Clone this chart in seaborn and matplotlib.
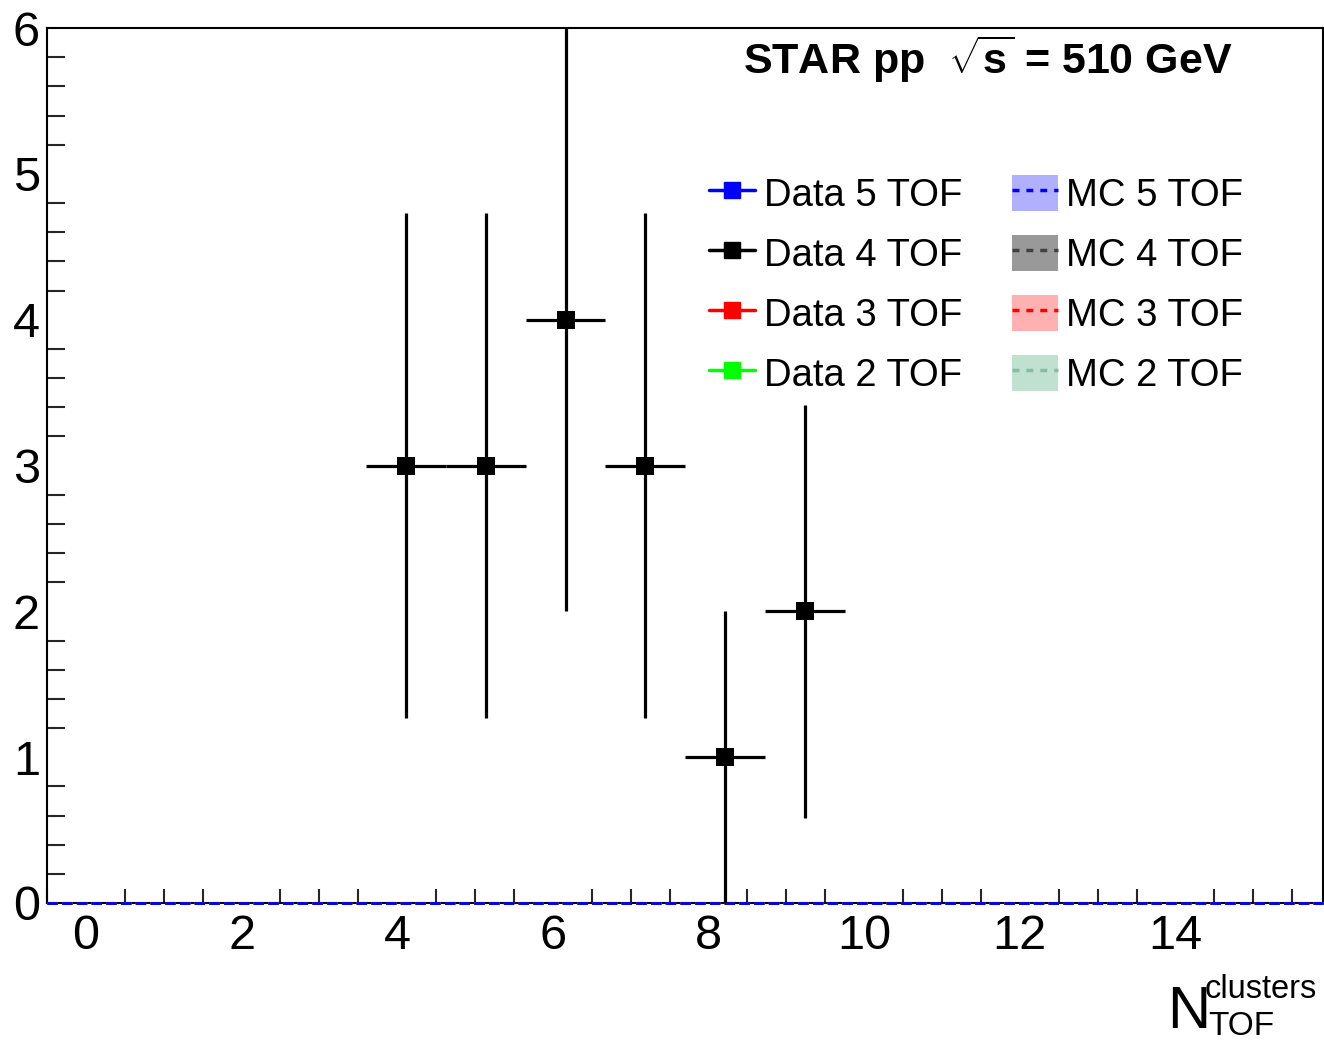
import numpy as np
import matplotlib
matplotlib.use("Agg")
import matplotlib.pyplot as plt
import seaborn as sns
from matplotlib.lines import Line2D
from matplotlib.patches import Patch
from matplotlib.legend_handler import HandlerTuple
from matplotlib.ticker import MultipleLocator

# histogram binning (16 bins)
x_lo, x_hi, n_bins = -0.5, 15.9, 16

data_labels = ["Data 5 TOF", "Data 4 TOF", "Data 3 TOF", "Data 2 TOF"]
data_colors = ["#0000ff", "#000000", "#ff0000", "#00ff00"]
data_5tof = [0, 0, 0, 0, 0, 0, 0, 0, 0, 0, 0, 0, 0, 0, 0, 0]
data_4tof = [0, 0, 0, 0, 3, 3, 4, 3, 1, 2, 0, 0, 0, 0, 0, 0]
data_3tof = [0, 0, 0, 0, 0, 0, 0, 0, 0, 0, 0, 0, 0, 0, 0, 0]
data_2tof = [0, 0, 0, 0, 0, 0, 0, 0, 0, 0, 0, 0, 0, 0, 0, 0]

mc_labels = ["MC 5 TOF", "MC 4 TOF", "MC 3 TOF", "MC 2 TOF"]
mc_line_colors = ["#0000ff", "#404040", "#ff0000", "#80c0a0"]
mc_fill_colors = ["#b0b0ff", "#999999", "#ffb0b0", "#c0e0d0"]
mc_5tof = [0] * 16
mc_4tof = [0] * 16
mc_3tof = [0] * 16
mc_2tof = [0] * 16

sns.set_theme(style="white")
plt.rcParams['font.family'] = ['Liberation Sans', 'DejaVu Sans']
plt.rcParams['text.color'] = 'black'
plt.rcParams['mathtext.fontset'] = 'custom'
plt.rcParams['mathtext.rm'] = 'Liberation Sans'
plt.rcParams['mathtext.bf'] = 'Liberation Sans:bold'

edges = np.linspace(x_lo, x_hi, n_bins + 1)
centers = 0.5 * (edges[:-1] + edges[1:])
half_w = 0.5 * (edges[1] - edges[0])

fig = plt.figure(figsize=(13.24, 10.40), dpi=100)
ax = fig.add_axes([47 / 1324, 137 / 1040, 1277 / 1324 - 0.0005, 875 / 1040])

# MC histograms (all empty) drawn as dashed steps
mc_series = [mc_2tof, mc_3tof, mc_4tof, mc_5tof]
for vals, lc, fc in zip(mc_series, mc_line_colors[::-1], mc_fill_colors[::-1]):
    ax.stairs(vals, edges, fill=True, color=fc, zorder=2)
    ax.stairs(vals, edges, color=lc, linestyle="--", linewidth=2, zorder=3, clip_on=False)

# data points with sqrt(N) errors, only filled bins drawn
for vals, col in zip([data_2tof, data_3tof, data_5tof, data_4tof],
                     [data_colors[3], data_colors[2], data_colors[0], data_colors[1]]):
    vals = np.array(vals, dtype=float)
    mask = vals > 0
    if not mask.any():
        continue
    ax.errorbar(centers[mask], vals[mask], yerr=np.sqrt(vals[mask]), xerr=half_w,
                fmt="none", ecolor=col, elinewidth=2.3, capsize=0, zorder=4)
    sns.scatterplot(x=centers[mask], y=vals[mask], marker="s", s=150, color=col,
                    edgecolor=col, linewidth=0, ax=ax, zorder=5)

ax.set_xlim(x_lo, x_hi)
ax.set_ylim(0, 6)
ax.xaxis.set_major_locator(MultipleLocator(2))
ax.xaxis.set_minor_locator(MultipleLocator(0.5))
ax.yaxis.set_major_locator(MultipleLocator(1))
ax.yaxis.set_minor_locator(MultipleLocator(0.2))
ax.tick_params(axis="x", which="major", direction="in", length=20, width=1.5,
               labelsize=35, pad=8, colors="black")
ax.tick_params(axis="x", which="minor", direction="in", length=10, width=1.5, bottom=True)
ax.tick_params(axis="y", which="major", direction="in", length=26, width=1.5,
               labelsize=35, pad=5, colors="black")
ax.tick_params(axis="y", which="minor", direction="in", length=13, width=1.5, left=True)
for sp in ax.spines.values():
    sp.set_color("black")
    sp.set_linewidth(1.5)
ax.set_xlabel("")
ax.set_ylabel("")

# legend
data_handles = [Line2D([0], [0], color=c, lw=2.5, marker="s", markersize=11) for c in data_colors]
mc_handles = [(Patch(facecolor=fc, edgecolor="none"),
               Line2D([0], [0], color=lc, lw=2.5, linestyle=(0, (2, 2))))
              for lc, fc in zip(mc_line_colors, mc_fill_colors)]
leg = ax.legend(data_handles + mc_handles, data_labels + mc_labels, ncol=2,
                handler_map={tuple: HandlerTuple(ndivide=1, pad=0)},
                loc="upper left", bbox_to_anchor=(0.519, 0.832), frameon=False,
                fontsize=27.5, handlelength=1.2, handleheight=1.07, handletextpad=0.22,
                labelspacing=0.55, columnspacing=1.3, borderpad=0, borderaxespad=0)
for t in leg.get_texts():
    t.set_color("black")

# header
ax.text(0.737, 0.994, r"STAR pp  $\mathbf{\sqrt{s}}$ = 510 GeV", transform=ax.transAxes,
        ha="center", va="top", fontsize=31, fontweight="bold", color="black")

# x axis title
fig.text(1167 / 1324, 1 - 1028 / 1040, "N", fontsize=43, ha="left", va="baseline")
fig.text(1205 / 1324, 1 - 998 / 1040, "clusters", fontsize=23.5, ha="left", va="baseline")
fig.text(1208 / 1324, 1 - 1035 / 1040, "TOF", fontsize=24, ha="left", va="baseline")

fig.savefig("out.png", dpi=100)
